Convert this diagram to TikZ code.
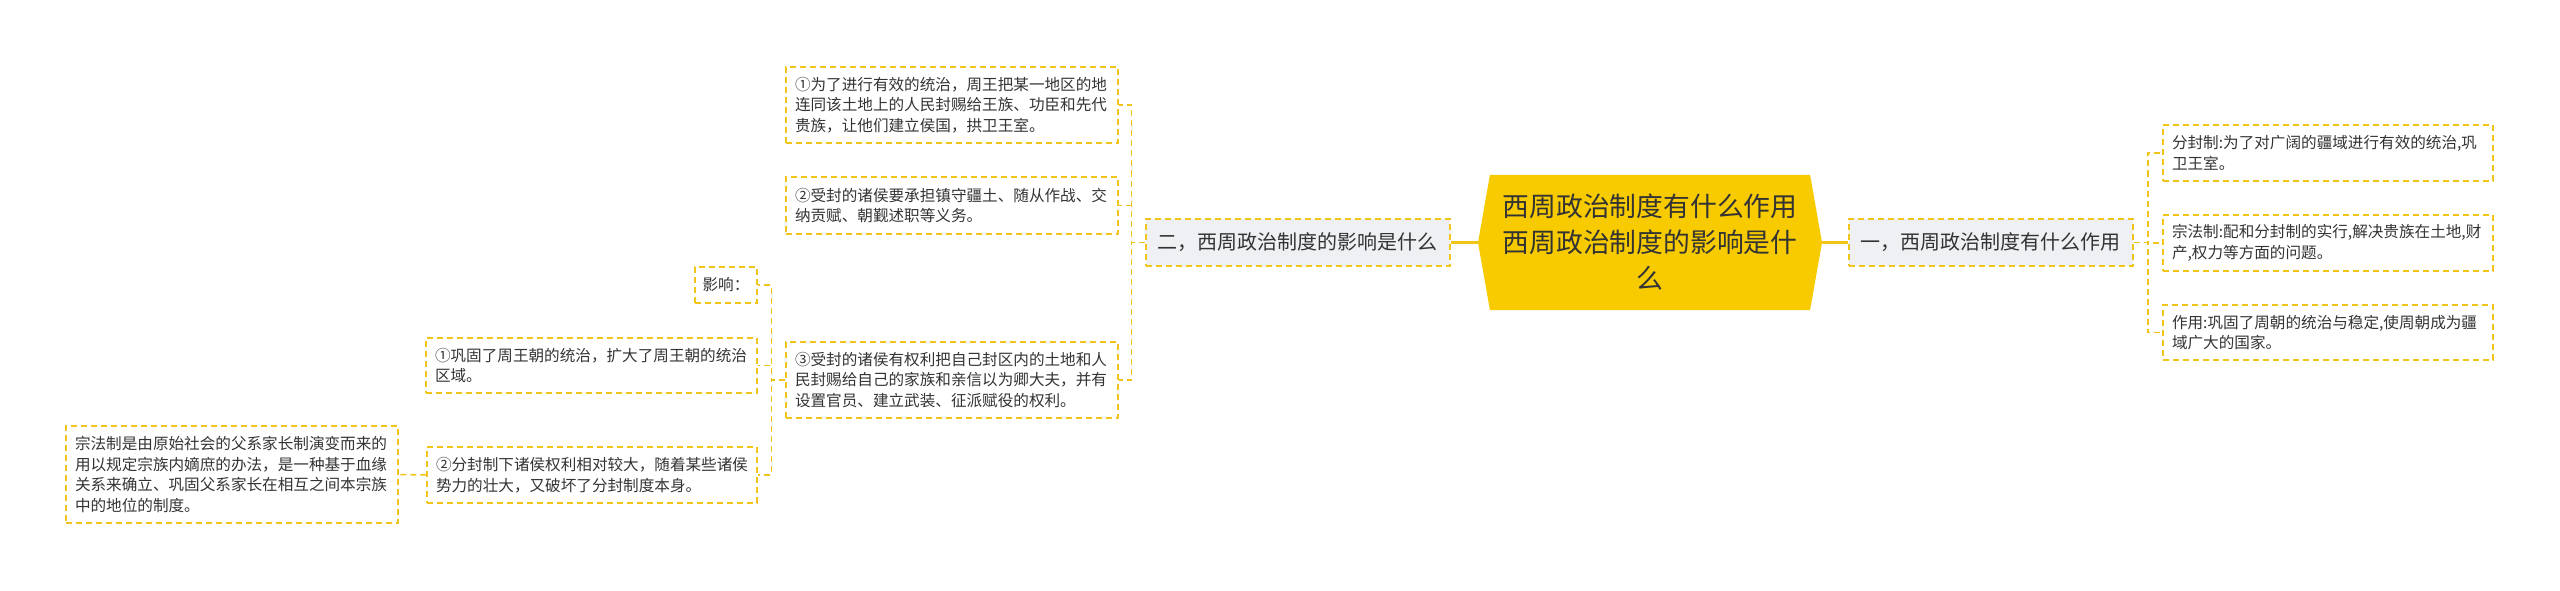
\documentclass[tikz,border=0pt]{standalone}
\usepackage{fontspec}
\setmainfont{Noto Sans CJK SC}
\newfontfamily\circfont[RawFeature=+fwid]{Noto Sans CJK SC}
\usetikzlibrary{shapes.symbols}
\definecolor{mapyellow}{HTML}{F0C419}
\definecolor{rootyellow}{HTML}{F7CB00}
\definecolor{subgray}{HTML}{EEF0F3}
\definecolor{inkgray}{HTML}{333333}
\newcommand{\circnum}[1]{{\circfont #1}}
\tikzset{
  leaf/.style={draw=mapyellow, line width=1.5pt, dash pattern=on 6pt off 4pt, text=inkgray,
    align=left, inner xsep=9pt, inner ysep=3pt, font=\fontsize{15.6}{20.5}\selectfont},
  sub/.style={leaf, fill=subgray, inner xsep=11pt, minimum height=47pt, font=\fontsize{20}{24}\selectfont},
  link/.style={draw=mapyellow, line width=1.5pt, dash pattern=on 6pt off 4pt},
  trunk/.style={draw=mapyellow, line width=2.5pt}
}

\begin{document}
\begin{tikzpicture}[x=1pt,y=-1pt]
    \useasboundingbox (0,0) rectangle (2560,591);
    \node[signal, signal to=west and east, signal pointer angle=160, fill=rootyellow, text=inkgray,
      minimum width=344pt, minimum height=135pt, align=center, font=\fontsize{26.8}{36}\selectfont]
      (root) at (1650,242.5) {西周政治制度有什么作用\\西周政治制度的影响是什\\么}; % Node central
    \node[sub, text width=262pt] (one) at (1991,242.5) {一，西周政治制度有什么作用};
    \node[sub, text width=282pt] (two) at (1298,242.5) {二，西周政治制度的影响是什么};
    % Branca dreta
    \node[leaf, text width=312pt, minimum height=56pt] (r1) at (2328,153) {分封制:为了对广阔的疆域进行有效的统治,巩\\卫王室。};
    \node[leaf, text width=312pt, minimum height=56pt] (r2) at (2328,243) {宗法制:配和分封制的实行,解决贵族在土地,财\\产,权力等方面的问题。};
    \node[leaf, text width=312pt, minimum height=55pt] (r3) at (2328,332.5) {作用:巩固了周朝的统治与稳定,使周朝成为疆\\域广大的国家。};
    % Branca esquerra
    \node[leaf, text width=314pt, minimum height=76pt] (l1) at (952,105) {\circnum{①}为了进行有效的统治，周王把某一地区的地\\连同该土地上的人民封赐给王族、功臣和先代\\贵族，让他们建立侯国，拱卫王室。};
    \node[leaf, text width=314pt, minimum height=57pt] (l2) at (952,205.5) {\circnum{②}受封的诸侯要承担镇守疆土、随从作战、交\\纳贡赋、朝觐述职等义务。};
    \node[leaf, text width=314pt, minimum height=76pt] (l3) at (952,380) {\circnum{③}受封的诸侯有权利把自己封区内的土地和人\\民封赐给自己的家族和亲信以为卿大夫，并有\\设置官员、建立武装、征派赋役的权利。};
    \node[leaf, minimum width=62pt, minimum height=36pt, inner xsep=6pt] (effect) at (726,285) {影响：};
    \node[leaf, text width=313pt, minimum height=55pt] (m1) at (591.5,365.5) {\circnum{①}巩固了周王朝的统治，扩大了周王朝的统治\\区域。};
    \node[leaf, text width=312pt, minimum height=56pt] (m2) at (592,475) {\circnum{②}分封制下诸侯权利相对较大，随着某些诸侯\\势力的壮大，又破坏了分封制度本身。};
    \node[leaf, text width=314pt, minimum height=97pt] (clan) at (232,474.5) {宗法制是由原始社会的父系家长制演变而来的\\用以规定宗族内嫡庶的办法，是一种基于血缘\\关系来确立、巩固父系家长在相互之间本宗族\\中的地位的制度。};
    % Connexions
    \draw[trunk] (root.west) -- (two.east);
    \draw[trunk] (root.east) -- (one.west);
    \foreach \n in {r1,r2,r3} \draw[link] (one.east) -- ++(14,0) |- (\n.west);
    \foreach \n in {l1,l2,l3} \draw[link] (two.west) -- ++(-14,0) |- (\n.east);
    \foreach \n in {effect,m1,m2} \draw[link] (l3.west) -- ++(-14,0) |- (\n.east);
    \draw[link] (m2.west) -- (clan.east);
\end{tikzpicture}
\end{document}
